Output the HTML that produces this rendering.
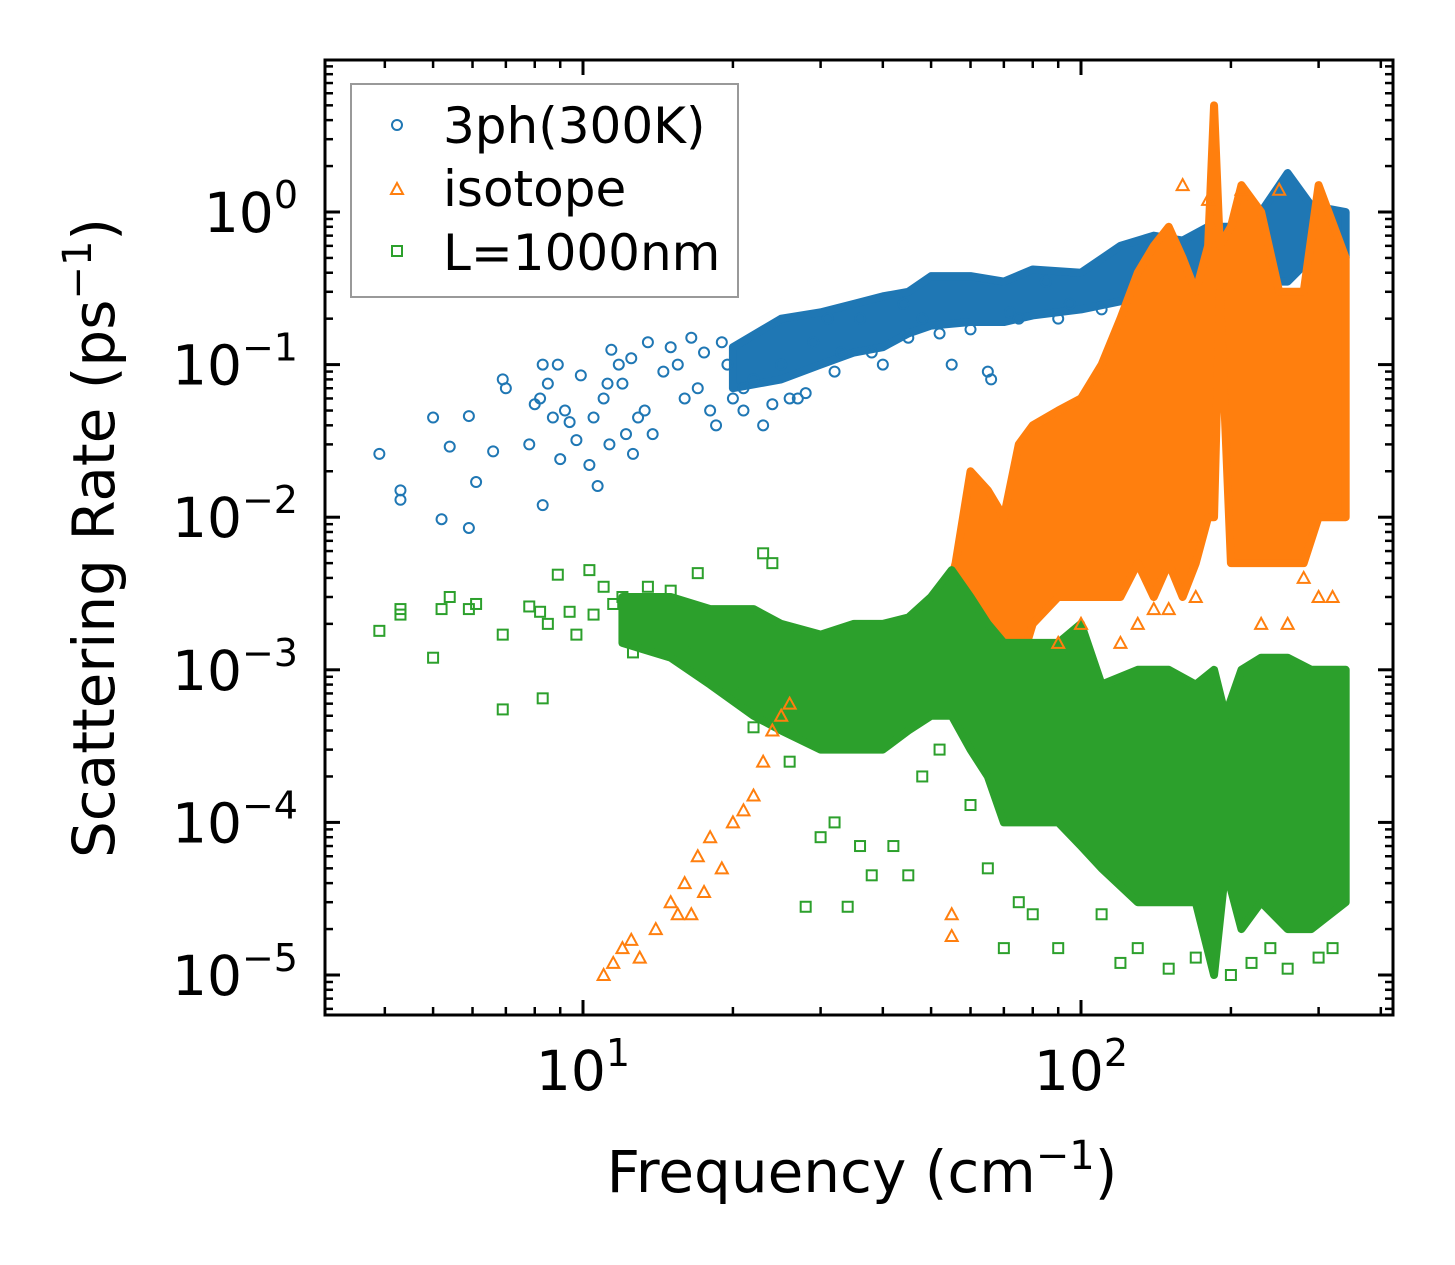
<!DOCTYPE html>
<html><head><meta charset="utf-8"><style>
html,body{margin:0;padding:0;background:#fff;}
svg{display:block;font-family:"DejaVu Sans","Liberation Sans",sans-serif;}
</style></head><body>
<svg id="chart" width="1455" height="1265" viewBox="0 0 1455 1265">
<g id="bands"></g>
<g id="marks"></g>
<g id="axes"></g>
<text x="862" y="1192" font-size="58" text-anchor="middle">Frequency (cm<tspan font-size="40" dy="-23">−1</tspan><tspan dy="23">)</tspan></text>
<text transform="translate(114,538) rotate(-90)" font-size="58" text-anchor="middle">Scattering Rate (ps<tspan font-size="40" dy="-23">−1</tspan><tspan dy="23">)</tspan></text>
<g>
<rect x="351" y="84" width="387" height="213" fill="#fff" stroke="#999" stroke-width="2"/>
<circle cx="397" cy="125" r="5" fill="none" stroke="#1f77b4" stroke-width="2"/>
<text x="443" y="143" font-size="50">3ph(300K)</text>
<polygon points="397,183 391,194 403,194" fill="none" stroke="#ff7f0e" stroke-width="2"/>
<text x="443" y="206" font-size="50">isotope</text>
<rect x="392" y="246" width="10" height="10" fill="none" stroke="#2ca02c" stroke-width="2"/>
<text x="443" y="270" font-size="50">L=1000nm</text>
</g>
</svg>
<script>
// ---- data ----
const blueFreq=[3.9,4.3,4.3,5,5.2,5.4,5.9,5.9,6.1,6.6,6.9,7,7.8,8,8.2,8.3,8.3,8.5,8.7,8.9,9,9.2,9.4,9.7,9.9,10.3,10.5,10.7,11,11.2,11.3,11.4,11.8,12,12.2,12.5,12.6,12.9,13.3,13.5,13.8,14.5,15,15.5,16,16.5,17,17.5,18,18.5,19,19.5,20,21,22,23,25,27,29,31,33,36,40,44,48,55,65,66,72,85,95,21,24,26,28,32,38,45,52,60,75,90,110];
const blueRate=[0.026,0.015,0.013,0.045,0.0097,0.029,0.046,0.0085,0.017,0.027,0.08,0.07,0.03,0.055,0.06,0.1,0.012,0.075,0.045,0.1,0.024,0.05,0.042,0.032,0.085,0.022,0.045,0.016,0.06,0.075,0.03,0.125,0.1,0.075,0.035,0.11,0.026,0.045,0.05,0.14,0.035,0.09,0.13,0.1,0.06,0.15,0.07,0.12,0.05,0.04,0.14,0.1,0.06,0.05,0.08,0.04,0.1,0.06,0.14,0.2,0.12,0.2,0.1,0.25,0.2,0.1,0.09,0.08,0.22,0.35,0.25,0.07,0.055,0.06,0.065,0.09,0.12,0.15,0.16,0.17,0.2,0.2,0.23];
const blueBandFreq=[20,25,30,35,40,45,50,60,70,80,100,120,140,160,180,200,230,260,290,340];
const blueBandLow=[0.07,0.08,0.1,0.12,0.13,0.16,0.18,0.19,0.19,0.21,0.23,0.26,0.3,0.3,0.35,0.4,0.35,0.35,0.5,0.5];
const blueBandHigh=[0.13,0.2,0.22,0.25,0.28,0.3,0.38,0.38,0.35,0.42,0.4,0.6,0.7,0.65,0.8,0.8,1.0,1.8,1.1,1.0];

const orangeFreq=[11,11.5,12,12.5,13,14,15,15.5,16,16.5,17,17.5,18,19,20,21,22,23,24,25,26,55,55,130,160,180,210,250,280,300,230,150,120,140,170,260,320,100,90];
const orangeRate=[1e-5,1.2e-5,1.5e-5,1.7e-5,1.3e-5,2e-5,3e-5,2.5e-5,4e-5,2.5e-5,6e-5,3.5e-5,8e-5,5e-5,1e-4,1.2e-4,1.5e-4,2.5e-4,4e-4,5e-4,6e-4,2.5e-5,1.8e-5,2e-3,1.5,1.2,1.4,1.4,4e-3,3e-3,2e-3,2.5e-3,1.5e-3,2.5e-3,3e-3,2e-3,3e-3,2e-3,1.5e-3];
const orangeBandFreq=[52,56,60,65,70,75,80,90,100,110,120,130,140,150,160,170,180,185,190,200,210,230,250,280,300,340];
const orangeBandLow=[1e-3,5e-4,5e-4,1e-3,5e-4,1e-3,2e-3,3e-3,3e-3,3e-3,3e-3,5e-3,3e-3,5e-3,3e-3,5e-3,1e-2,1e-2,0.3,5e-3,5e-3,5e-3,5e-3,5e-3,1e-2,1e-2];
const orangeBandHigh=[2e-3,5e-3,0.02,0.015,0.01,0.03,0.04,0.05,0.06,0.1,0.2,0.4,0.6,0.8,0.5,0.3,0.6,5,0.6,0.8,1.5,1.0,0.3,0.3,1.5,0.5];

const greenFreq=[3.9,4.3,4.3,5,5.2,5.4,5.9,6.1,6.9,6.9,7.8,8.2,8.3,8.5,8.9,9.4,9.7,10.3,10.5,11,11.5,12,12.6,13.5,15,16,17,19,20,21,22,23,24,26,28,30,32,34,36,38,42,45,48,52,60,65,70,75,80,90,120,150,200,260,320,110,130,170,220,240,300];
const greenRate=[1.8e-3,2.5e-3,2.3e-3,1.2e-3,2.5e-3,3e-3,2.5e-3,2.7e-3,1.7e-3,5.5e-4,2.6e-3,2.4e-3,6.5e-4,2e-3,4.2e-3,2.4e-3,1.7e-3,4.5e-3,2.3e-3,3.5e-3,2.7e-3,3e-3,1.3e-3,3.5e-3,3.3e-3,1.5e-3,4.3e-3,1.1e-3,7e-4,1.2e-3,4.2e-4,5.8e-3,5e-3,2.5e-4,2.8e-5,8e-5,1e-4,2.8e-5,7e-5,4.5e-5,7e-5,4.5e-5,2e-4,3e-4,1.3e-4,5e-5,1.5e-5,3e-5,2.5e-5,1.5e-5,1.2e-5,1.1e-5,1e-5,1.1e-5,1.5e-5,2.5e-5,1.5e-5,1.3e-5,1.2e-5,1.5e-5,1.3e-5];
const greenBandFreq=[12,15,18,22,25,30,35,40,45,50,55,60,65,70,80,90,100,110,130,150,170,185,195,210,230,260,290,340];
const greenBandLow=[1.5e-3,1.2e-3,8e-4,5e-4,4e-4,3e-4,3e-4,3e-4,4e-4,5e-4,5e-4,3e-4,2e-4,1e-4,1e-4,1e-4,7e-5,5e-5,3e-5,3e-5,3e-5,1e-5,5e-5,2e-5,3e-5,2e-5,2e-5,3e-5];
const greenBandHigh=[3e-3,3e-3,2.5e-3,2.5e-3,2e-3,1.7e-3,2e-3,2e-3,2.2e-3,3e-3,4.5e-3,3e-3,2e-3,1.5e-3,1.5e-3,1.5e-3,2e-3,8e-4,1e-3,1e-3,8e-4,1e-3,5e-4,1e-3,1.2e-3,1.2e-3,1e-3,1e-3];

const yTickExp=[0,-1,-2,-3,-4,-5];
const xTickExp=[1,2];

// ---- axes ----
const L=325,R=1393,T=60,B=1015;
const X=f=>583+498*(Math.log10(f)-1);
const Y=v=>212-152.6*Math.log10(v);
const NS='http://www.w3.org/2000/svg';
function mk(tag,attrs,parent){const e=document.createElementNS(NS,tag);for(const k in attrs)e.setAttribute(k,attrs[k]);parent.appendChild(e);return e;}
const bands=document.getElementById('bands'),marks=document.getElementById('marks'),axes=document.getElementById('axes');

function band(fr,lo,hi,color,name){
  let pts=[];
  for(let i=0;i<fr.length;i++)pts.push(X(fr[i])+','+Y(hi[i]));
  for(let i=fr.length-1;i>=0;i--)pts.push(X(fr[i])+','+Y(lo[i]));
  const p=mk('polygon',{points:pts.join(' '),fill:color,stroke:color,'stroke-width':8,'stroke-linejoin':'round'},bands);
  
  
}
function pts(fr,rt,kind,color,name){
  for(let i=0;i<fr.length;i++){
    const x=X(fr[i]),y=Y(rt[i]);let e;
    if(kind==='c')e=mk('circle',{cx:x,cy:y,r:5,fill:'none',stroke:color,'stroke-width':2},marks);
    else if(kind==='t')e=mk('polygon',{points:`${x},${y-6} ${x-6},${y+5} ${x+6},${y+5}`,fill:'none',stroke:color,'stroke-width':2},marks);
    else e=mk('rect',{x:x-5,y:y-5,width:10,height:10,fill:'none',stroke:color,'stroke-width':2},marks);
    
    
  }
}
band(blueBandFreq,blueBandLow,blueBandHigh,'#1f77b4','band-3ph');
pts(blueFreq,blueRate,'c','#1f77b4','point-3ph');
band(orangeBandFreq,orangeBandLow,orangeBandHigh,'#ff7f0e','band-isotope');
pts(orangeFreq,orangeRate,'t','#ff7f0e','point-isotope');
band(greenBandFreq,greenBandLow,greenBandHigh,'#2ca02c','band-boundary');
pts(greenFreq,greenRate,'s','#2ca02c','point-boundary');

// frame
const fr=mk('rect',{x:L,y:T,width:R-L,height:B-T,fill:'none',stroke:'#000','stroke-width':3},axes);


// x ticks
for(let d=0;d<=2;d++)for(let m=1;m<10;m++){
  const f=m*Math.pow(10,d),x=X(f);if(x<L||x>R)continue;
  const len=m===1?15:8,w=m===1?3:2.5;
  mk('line',{x1:x,y1:B,x2:x,y2:B-len,stroke:'#000','stroke-width':w},axes);
  mk('line',{x1:x,y1:T,x2:x,y2:T+len,stroke:'#000','stroke-width':w},axes);
}
xTickExp.forEach(e=>{
  const t=mk('text',{x:X(Math.pow(10,e)),y:1090,'font-size':55,'text-anchor':'middle'},axes);
  t.innerHTML='10<tspan font-size="38" dy="-24">'+e+'</tspan>';
  
  
});
// y ticks
for(let d=-6;d<=1;d++)for(let m=1;m<10;m++){
  const v=m*Math.pow(10,d),y=Y(v);if(y<T||y>B)continue;
  const len=m===1?15:8,w=m===1?3:2.5;
  mk('line',{x1:L,y1:y,x2:L+len,y2:y,stroke:'#000','stroke-width':w},axes);
  mk('line',{x1:R,y1:y,x2:R-len,y2:y,stroke:'#000','stroke-width':w},axes);
}
yTickExp.forEach(e=>{
  const t=mk('text',{x:298,y:Y(Math.pow(10,e))+20,'font-size':55,'text-anchor':'end'},axes);
  t.innerHTML='10<tspan font-size="38" dy="-24">'+(e<0?'−'+(-e):e)+'</tspan>';
  
  
});
</script>
</body></html>
